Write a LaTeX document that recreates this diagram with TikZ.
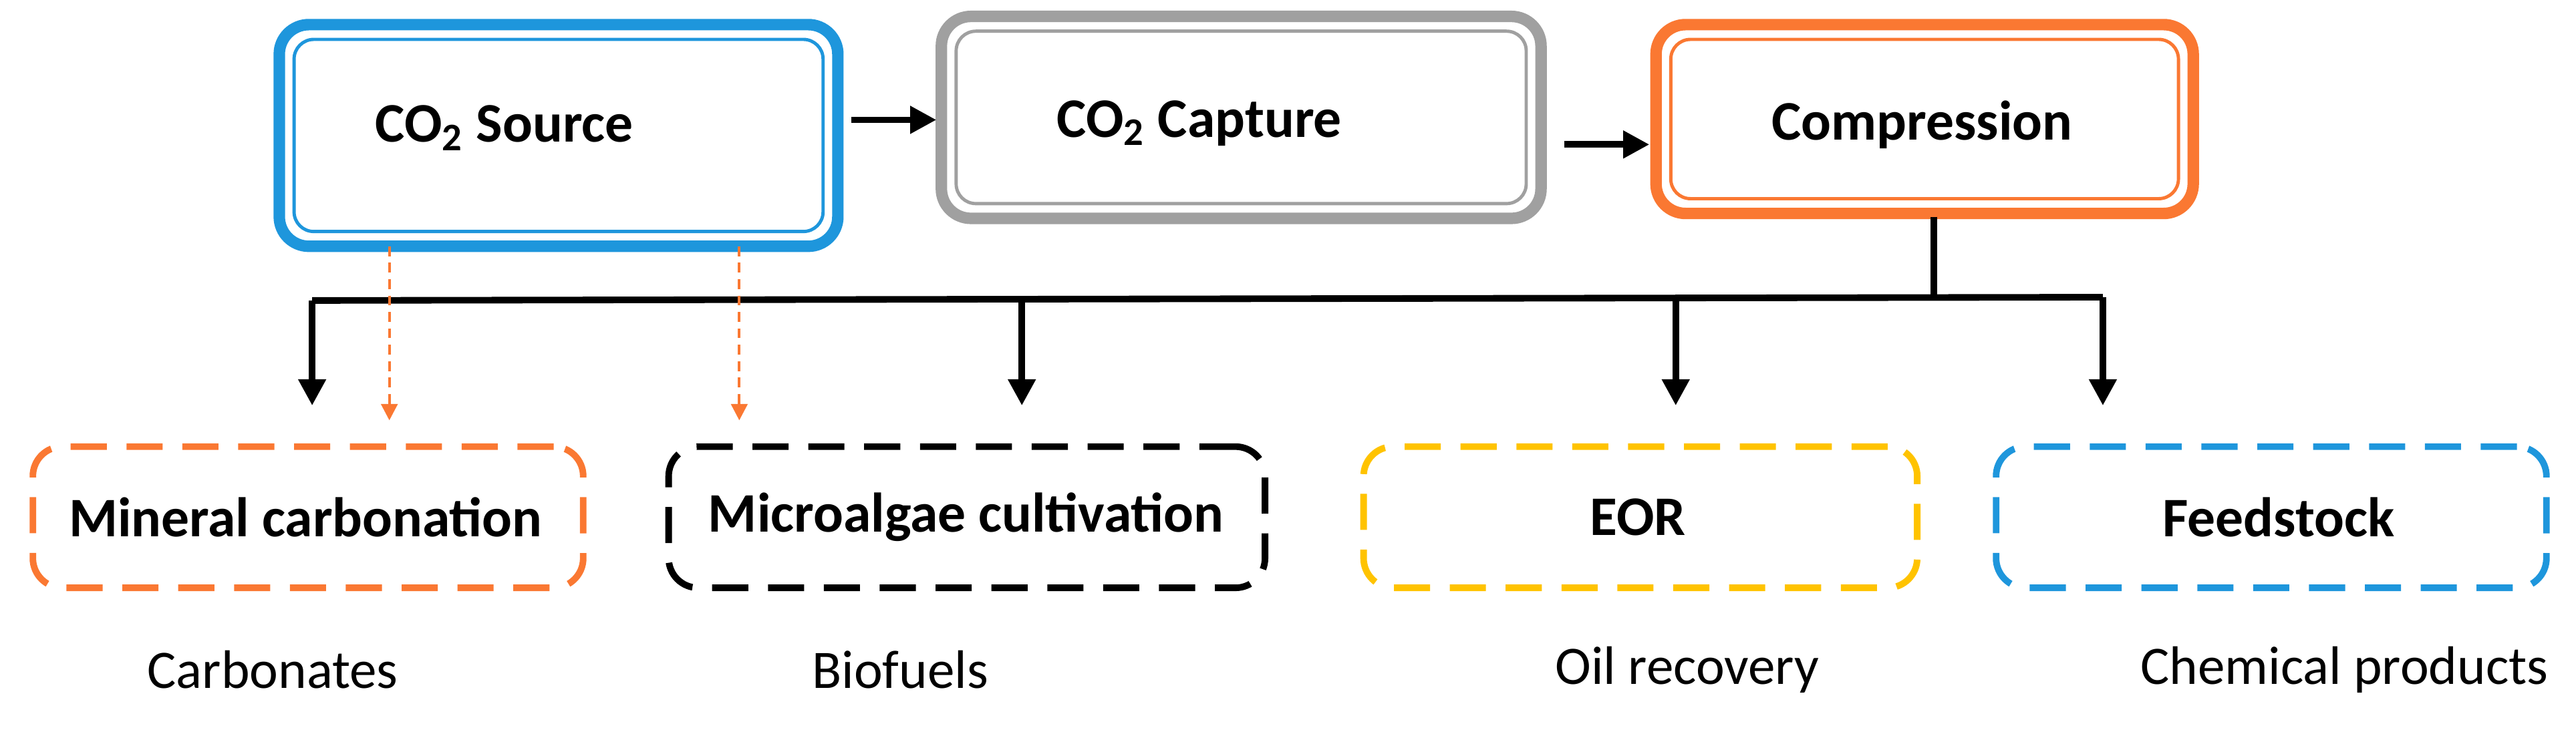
\documentclass[tikz,border=0pt]{standalone}
\usepackage{fontspec}
\setmainfont{Carlito}
\usetikzlibrary{arrows.meta}
\definecolor{cblue}{RGB}{30,150,220}
\definecolor{cgray}{RGB}{160,160,160}
\definecolor{corange}{RGB}{250,120,50}
\definecolor{cyellow}{RGB}{255,195,0}
\begin{document}
\begin{tikzpicture}[x=0.5pt,y=-0.5pt,
  lbl/.style={font=\fontsize{17}{19}\selectfont\bfseries},
  dbox/.style={draw=#1,dash pattern=on 11pt off 6pt,line width=2pt,rounded corners=9pt},
  sub/.style={font=\fontsize{16.5}{19}\selectfont},
  arr/.style={-{Triangle[length=8pt,width=8pt]},line width=2pt},
  thinarr/.style={-{Triangle[length=5pt,width=5pt]},corange,line width=0.8pt,dash pattern=on 3pt off 2pt}]
\useasboundingbox (0,0) rectangle (1568,454);
% top boxes
\foreach \n/\c/\xa/\ya/\xb/\yb in {src/cblue/170/15/510/150, cap/cgray/573/10/938/133, cmp/corange/1008/15/1335/130}{
  \draw[\c,line width=3.5pt,rounded corners=9pt] (\xa,\ya) rectangle (\xb,\yb);
  \draw[\c,line width=1pt,rounded corners=6pt] (\xa+9,\ya+9) rectangle (\xb-9,\yb-9);
  \coordinate (\n-w) at (\xa,{(\ya+\yb)/2});
  \coordinate (\n-e) at (\xb,{(\ya+\yb)/2});
}
\node[lbl] (t1) at (307,78) {CO\textsubscript{2} Source};
\node[lbl] (t2) at (730,75) {CO\textsubscript{2} Capture};
\node[lbl] (t3) at (1170,76) {Compression};
\coordinate (a1s) at (518,73); \coordinate (a1e) at (570,73);
\coordinate (a2s) at (952,88); \coordinate (a2e) at (1004,88);
\draw[arr] (a1s) -- (a1e);
\draw[arr] (a2s) -- (a2e);
% bus
\coordinate (c0) at (1177,132); \coordinate (c1) at (1177,181);
\coordinate (bl) at (190,183); \coordinate (br) at (1280,181);
\draw[line width=2pt] (c0) -- (c1);
\draw[line width=2pt] (bl) -- (br);
\foreach \x/\y in {190/183,622/182,1020/181,1280/181}{
  \draw[arr] (\x,\y) -- (\x,247);
}
% bottom boxes
\node[dbox=corange,minimum width=167.5pt,minimum height=43pt] (b1) at (187.5,315) {};
\node[dbox=black,minimum width=181.5pt,minimum height=43pt] (b2) at (588.5,315) {};
\node[dbox=cyellow,minimum width=168.5pt,minimum height=43pt] (b3) at (998.5,315) {};
\node[dbox=cblue,minimum width=167.5pt,minimum height=43pt] (b4) at (1382.5,315) {};
\node[lbl] at (186,315) {Mineral carbonation};
\node[lbl] at (588,315) {Microalgae cultivation};
\node[lbl] at (997,315) {EOR};
\node[lbl] at (1387,315) {Feedstock};
% thin dashed
\coordinate (d1) at (237,150); \coordinate (d2) at (450,150);
\draw[thinarr] (d1) -- (237,256);
\draw[thinarr] (d2) -- (450,256);
% sublabels
\node[sub] at (166,408) {Carbonates};
\node[sub] at (548,408) {Biofuels};
\node[sub] at (1027,408) {Oil recovery};
\node[sub] at (1427,408) {Chemical products};
\end{tikzpicture}
\end{document}
